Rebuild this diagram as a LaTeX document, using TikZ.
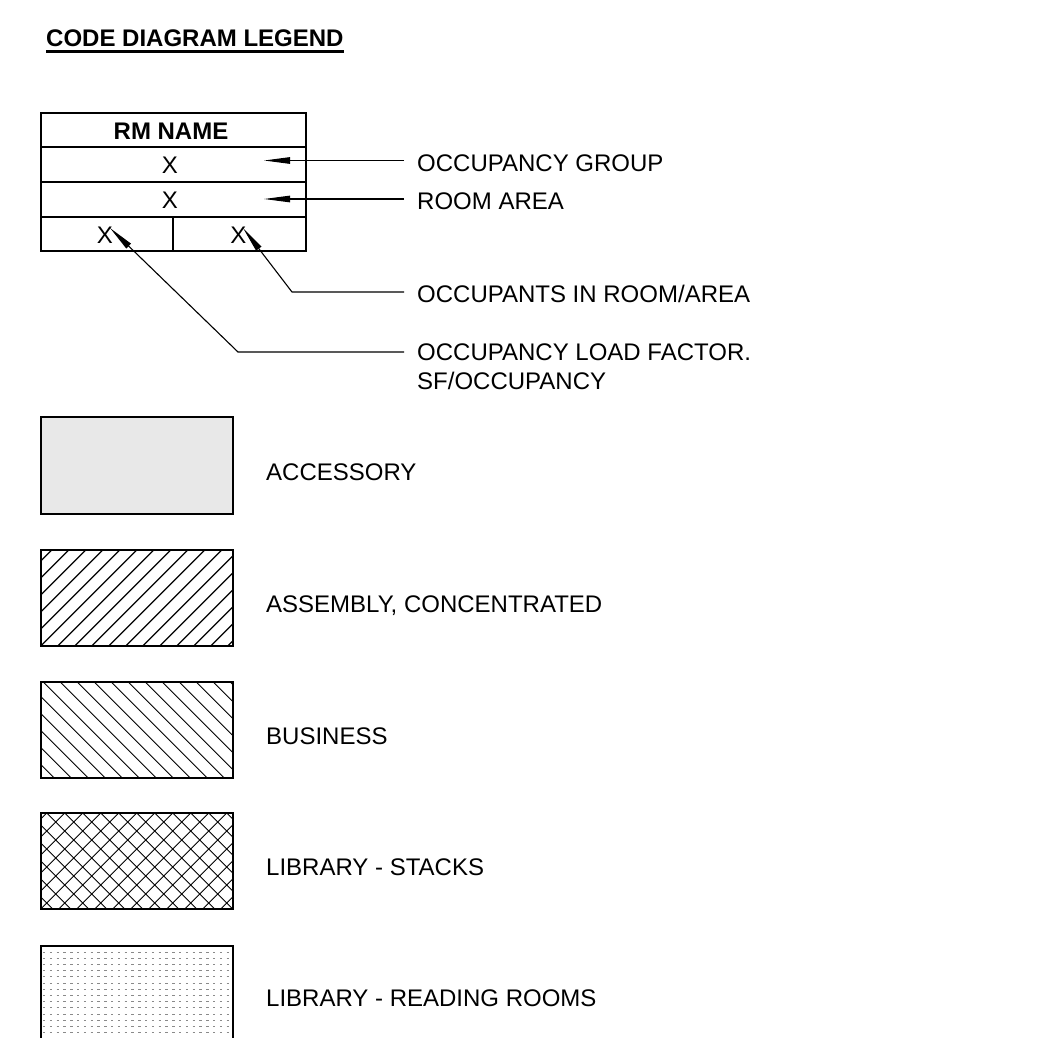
\documentclass[tikz,border=0pt]{standalone}
\usepackage{fontspec}
\setmainfont{Liberation Sans}
\usetikzlibrary{arrows.meta}
\definecolor{accgray}{HTML}{E8E8E8}
\definecolor{dotgray}{HTML}{8A8A8A}
\begin{document}
\begin{tikzpicture}[x=1pt,y=-1pt,
  txt/.style={inner sep=0pt, font=\fontsize{24}{29}\selectfont, text height=17.2pt, text depth=0pt},
  boldtxt/.style={txt, font=\fontsize{24}{29}\selectfont\bfseries},
  lbl/.style={txt, anchor=west},
  tbl/.style={line width=2pt},
  swbox/.style={line width=2pt},
  hatch/.style={line width=1.3pt},
  thinhatch/.style={line width=0.9pt},
  lead/.style={line width=1.1pt},
  arr/.style={lead, -{Triangle[length=26pt,width=6.5pt]}}]
\clip (0,0) rectangle (1050,1038);
\fill[white] (0,0) rectangle (1050,1038);

% title
\node[boldtxt, anchor=base west, text height=, text depth=] (title) at (46,47) {CODE DIAGRAM LEGEND};
\draw[line width=2.5pt] ([yshift=-4.5pt]title.base west) -- ([yshift=-4.5pt]title.base east);

% room tag table
\draw[tbl] (41,113) rectangle (306,251);
\draw[tbl] (41,147) -- (306,147);
\draw[tbl] (41,182) -- (306,182);
\draw[tbl] (41,217) -- (306,217);
\draw[tbl] (173,217) -- (173,251);
\node[boldtxt] (rm) at (171,131) {RM NAME};
\node[txt] (xOG) at (170,165) {X};
\node[txt] (xRA) at (170,200) {X};
\node[txt] (xL) at (105,234.5) {X};
\node[txt] (xR) at (238.5,234.5) {X};

% leader coordinates
\coordinate (tOG) at (264,160.5);
\coordinate (tRA) at (264,199);
\coordinate (tL) at (110,228);
\coordinate (tR) at (243,228);
\coordinate (bR) at (292,292);
\coordinate (bL) at (238,352);
\coordinate (sOG) at (404,160.5);
\coordinate (sRA) at (404,199);
\coordinate (sOC) at (404,292);
\coordinate (sLF) at (404,352);

% labels
\node[lbl] (lOG) at (417,162.5) {OCCUPANCY GROUP};
\node[lbl] (lRA) at (417,201) {ROOM AREA};
\node[lbl] (lOC) at (417,294) {OCCUPANTS IN ROOM/AREA};
\node[txt, anchor=north west, align=left, text height=, text depth=] (lLF) at (417,344) {OCCUPANCY LOAD FACTOR.\\SF/OCCUPANCY};

\draw[arr] (sOG) -- (tOG);
\draw[arr] (sRA) -- (tRA);
\draw[arr] (sOC) -- (bR) -- (tR);
\draw[arr] (sLF) -- (bL) -- (tL);

% accessory
\filldraw[swbox, fill=accgray] (41,417) rectangle (233,514);
\node[lbl] (lAcc) at (266,471.5) {ACCESSORY};

% assembly
\begin{scope}
\clip (41,550) rectangle (233,646);
\foreach \k in {-1,...,17} \draw[hatch] ({51.7+17*\k-100},650) -- ++(104,-104);
\end{scope}
\draw[swbox] (41,550) rectangle (233,646);
\node[lbl] (lAsm) at (266,604) {ASSEMBLY, CONCENTRATED};

% business
\begin{scope}
\clip (41,682) rectangle (233,778);
\foreach \k in {-7,...,12} \draw[thinhatch] ({43.3+17*\k-4},678) -- ++(104,104);
\end{scope}
\draw[swbox] (41,682) rectangle (233,778);
\node[lbl] (lBus) at (266,736) {BUSINESS};

% library stacks
\begin{scope}
\clip (41,813) rectangle (233,909);
\foreach \k in {-7,...,17} {
  \draw[thinhatch] ({46.7+18*\k-100},913) -- ++(104,-104);
  \draw[thinhatch] ({46.7+18*\k-4},809) -- ++(104,104);
}
\end{scope}
\draw[swbox] (41,813) rectangle (233,909);
\node[lbl] (lStk) at (266,867) {LIBRARY - STACKS};

% library reading rooms
\begin{scope}
\clip (41,946) rectangle (233,1045);
\foreach \r in {0,...,15} \draw[dotgray, line width=1pt, dash pattern=on 2.3pt off 4.5pt] (43,{952+6.2*\r}) -- (233,{952+6.2*\r});
\end{scope}
\draw[swbox] (41,1045) -- (41,946) -- (233,946) -- (233,1045);
\node[lbl] (lRead) at (266,998) {LIBRARY - READING ROOMS};
\end{tikzpicture}
\end{document}
